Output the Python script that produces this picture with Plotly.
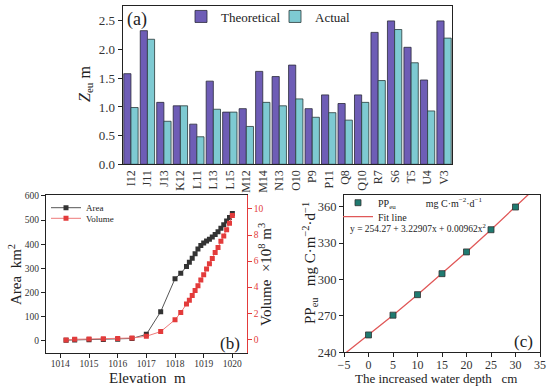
import plotly.graph_objects as go

# ---------------- data ----------------
sites = ["I12", "J11", "J13", "K12", "L11", "L13", "L15", "M12", "M14", "N13",
         "O10", "P9", "P11", "Q8", "Q10", "R7", "S6", "T5", "U4", "V3"]
zeu_theoretical = [1.58, 2.33, 1.08, 1.02, 0.70, 1.45, 0.91, 0.97, 1.62, 1.53,
                   1.73, 0.97, 1.21, 1.06, 1.21, 2.30, 2.50, 2.04, 1.47, 2.50]
zeu_actual = [0.99, 2.18, 0.75, 1.02, 0.48, 0.96, 0.91, 0.66, 1.08, 1.02,
              1.14, 0.82, 0.90, 0.77, 1.08, 1.46, 2.35, 1.77, 0.93, 2.20]

elevation = [1014.2, 1014.5, 1015.0, 1015.5, 1016.0, 1016.5, 1017.0, 1017.5, 1018.0,
             1018.2, 1018.4, 1018.5, 1018.6, 1018.7, 1018.8, 1018.9, 1019.0, 1019.1,
             1019.2, 1019.3, 1019.4, 1019.5, 1019.6, 1019.7, 1019.8, 1019.9, 1020.0]
area_km2 = [2, 3, 4, 5, 6, 9, 26, 120, 257, 279, 307, 325, 342, 360, 380, 395, 405,
            413, 421, 430, 440, 452, 466, 481, 496, 511, 527]
volume_1e8m3 = [-0.05, 0.0, 0.02, 0.04, 0.06, 0.10, 0.23, 0.59, 1.50, 2.05, 2.70, 3.00,
                3.35, 3.75, 4.10, 4.55, 4.95, 5.40, 5.80, 6.20, 6.65, 7.05, 7.52, 7.92,
                8.40, 8.90, 9.50]

depth_cm = [0, 5, 10, 15, 20, 25, 30]
pp_eu = [254.3, 270.6, 287.5, 304.8, 322.7, 341.0, 359.7]
fit_x = [-5, 0, 5, 10, 15, 20, 25, 30, 35]
fit_y = [238.4, 254.3, 270.6, 287.5, 304.8, 322.7, 341.0, 359.7, 379.0]

# ---------------- style ----------------
FONT = "Liberation Serif"
W, H = 550, 389
AX = "#222222"
TXT = "#222222"
PURPLE = "#6e5db6"
CYAN = "#7ecad2"
RED = "#e33b3b"
TEAL = "#1f7a70"
NB = "\u00a0"


def px(x):
    return x / W


def py(y):
    return 1 - y / H


fig = go.Figure()

# (a) bars
fig.add_trace(go.Bar(x=sites, y=zeu_theoretical, name="Theoretical",
                     marker=dict(color=PURPLE, line=dict(color="#2a2a3a", width=0.8)),
                     xaxis="x", yaxis="y", legend="legend"))
fig.add_trace(go.Bar(x=sites, y=zeu_actual, name="Actual",
                     marker=dict(color=CYAN, line=dict(color="#2a3a3a", width=0.8)),
                     xaxis="x", yaxis="y", legend="legend2"))

# (b) area / volume
fig.add_trace(go.Scatter(x=elevation, y=area_km2, name="Area", mode="lines+markers",
                         line=dict(color="#555555", width=1),
                         marker=dict(symbol="square", size=5, color="#333333"),
                         xaxis="x2", yaxis="y2", legend="legend3"))
fig.add_trace(go.Scatter(x=elevation, y=volume_1e8m3, name="Volume", mode="lines+markers",
                         line=dict(color="#ee7a7a", width=1),
                         marker=dict(symbol="square", size=5, color=RED),
                         xaxis="x2", yaxis="y3", legend="legend4"))

# (c) PP
fig.add_trace(go.Scatter(x=fit_x, y=fit_y, name="Fit line", mode="lines",
                         line=dict(color="#e05858", width=1.3),
                         xaxis="x3", yaxis="y4", legend="legend6"))
fig.add_trace(go.Scatter(x=depth_cm, y=pp_eu,
                         name="PP<sub>eu</sub>" + NB * 12 + "mg C·m<sup>−2</sup>·d<sup>−1</sup>",
                         mode="markers",
                         marker=dict(symbol="square", size=6, color=TEAL,
                                     line=dict(color="#333333", width=0.8)),
                         xaxis="x3", yaxis="y4", legend="legend5"))

axis_common = dict(showline=True, linecolor=AX, linewidth=1.2, showgrid=False,
                   zeroline=False, ticks="outside", ticklen=4, tickcolor=AX,
                   automargin=False, tickfont=dict(family=FONT, color="#333333"))


def leg(x, y, size):
    return dict(x=px(x), y=py(y), xanchor="left", yanchor="middle", visible=True,
                bgcolor="rgba(0,0,0,0)", borderwidth=0,
                font=dict(family=FONT, size=size, color=TXT))


def ann(text, x, y, size, angle=0, xanchor="center", color=TXT):
    return dict(text=text, x=px(x), y=py(y), xref="paper", yref="paper",
                xanchor=xanchor, yanchor="middle", textangle=angle,
                showarrow=False, font=dict(family=FONT, size=size, color=color))


fig.update_layout(
    template="none", showlegend=True,
    width=W, height=H, margin=dict(l=0, r=0, t=0, b=0, autoexpand=False),
    paper_bgcolor="white", plot_bgcolor="white",
    font=dict(family=FONT, color=TXT),
    barmode="group", bargap=0.13, bargroupgap=0.0,
    xaxis=dict(domain=[px(122.7), px(452.3)], anchor="y", range=[-0.5, 19.5],
               showline=True, linecolor=AX, linewidth=1.2, mirror=True, ticks="",
               tickangle=-90, automargin=False,
               tickfont=dict(family=FONT, size=12, color="#333333"),
               showgrid=False, zeroline=False),
    yaxis=dict(axis_common, domain=[py(164.3), py(6)], anchor="x", range=[0, 2.76],
               dtick=0.5, tickformat=".1f", mirror=True,
               tickfont=dict(family=FONT, size=13, color="#333333")),
    xaxis2=dict(axis_common, domain=[px(46), px(246.7)], anchor="y2",
                range=[1013.5, 1020.5], dtick=1, mirror=True, ticklabelstandoff=-2,
                tickfont=dict(family=FONT, size=9.5, color="#333333")),
    yaxis2=dict(axis_common, domain=[py(352.7), py(195)], anchor="x2",
                range=[-50, 604], dtick=100,
                tickfont=dict(family=FONT, size=9.5, color="#333333")),
    yaxis3=dict(axis_common, overlaying="y2", side="right", anchor="x2",
                range=[-1.03, 11.07], dtick=2, linecolor=RED, tickcolor=RED,
                tickfont=dict(family=FONT, size=9.5, color=RED)),
    xaxis3=dict(axis_common, domain=[px(344), px(540)], anchor="y4",
                range=[-5, 35], dtick=5, mirror=True, ticklabelstandoff=-3,
                tickfont=dict(family=FONT, size=12, color="#333333")),
    yaxis4=dict(axis_common, domain=[py(352.3), py(195)], anchor="x3",
                range=[240, 369.6], tickvals=[240, 270, 300, 330, 360], mirror=True,
                tickfont=dict(family=FONT, size=12.5, color="#333333")),
    legend=leg(181, 16.5, 13),
    legend2=leg(275, 16.5, 13),
    legend3=leg(46, 207.7, 9),
    legend4=leg(46, 218.3, 9),
    legend5=leg(338, 202.7, 10),
    legend6=leg(338, 216.7, 10),
    annotations=[
        ann("<i>Z</i><sub>eu</sub> m", 85, 84, 16, angle=-90),
        ann("Elevation" + NB * 2 + "m", 147, 378, 15),
        ann("Area" + NB * 2 + "km<sup>2</sup>", 15, 275, 15, angle=-90),
        ann("Volume" + NB * 2 + "×10<sup>8</sup> m<sup>3</sup>", 265, 275, 15, angle=-90),
        ann("PP<sub>eu</sub>" + NB * 3 + "mg C·m<sup>−2</sup>·d<sup>−1</sup>", 310, 263, 15,
            angle=-90),
        ann("The increased water depth" + NB * 3 + "cm", 436, 378, 13),
        ann("(a)", 137, 20, 18),
        ann("(b)", 230, 343, 17),
        ann("(c)", 523, 341.5, 17),
        ann("y = 254.27 + 3.22907x + 0.00962x<sup>2</sup>", 348, 228, 9.5, xanchor="left"),
    ],
)

fig.write_html("out.html", config={"displayModeBar": False},
               post_script="document.body.style.margin='0px';"
                           "document.body.style.overflow='hidden';")
